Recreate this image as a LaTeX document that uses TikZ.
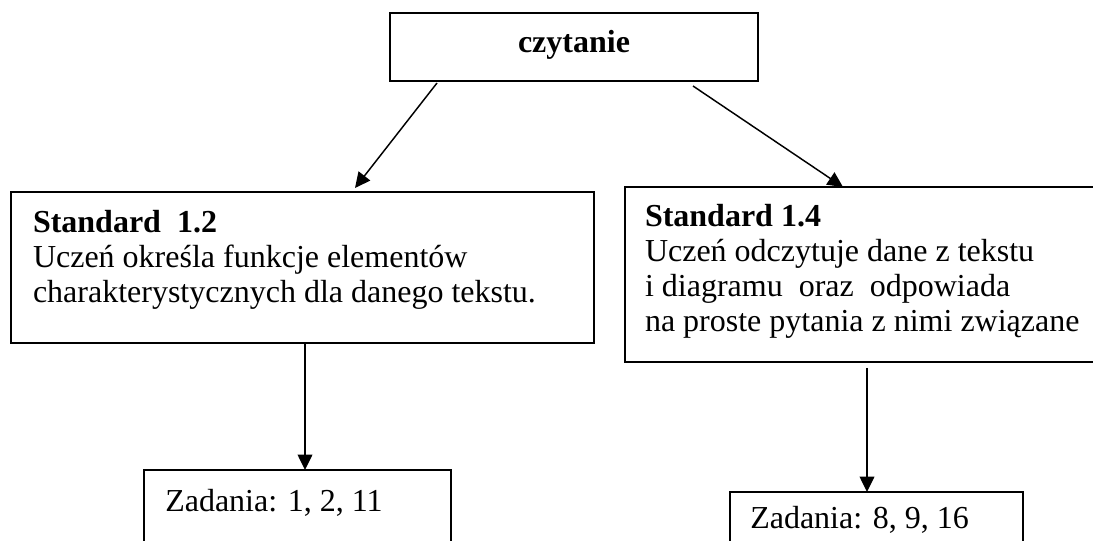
\documentclass[tikz,border=0pt]{standalone}
\usepackage{fontspec}
\setmainfont{Liberation Serif}
\usetikzlibrary{arrows.meta}
\begin{document}
\begin{tikzpicture}[x=0.75pt,y=-0.75pt,
  box/.style={draw,line width=1.4pt,inner sep=0pt,outer sep=0pt,anchor=north west},
  arr/.style={line width=1.1pt,-{Triangle[length=11.5pt,width=11pt]}},
  txt/.style={inner sep=0pt,outer sep=0pt,anchor=north west,align=left,font=\fontsize{24}{26.25}\selectfont},
  plain/.style={inner sep=0pt,anchor=base west,font=\fontsize{24}{26.25}\selectfont},
]
\useasboundingbox (0,0) rectangle (1093,541);
\clip (0,0) rectangle (1093,541);

% boxes
\node[box,minimum width=276pt,minimum height=51pt] (top) at (390,13) {};
\node[box,minimum width=437.25pt,minimum height=113.25pt] (lbox) at (11,192) {};
\node[box,minimum width=356.25pt,minimum height=131.25pt] (rbox) at (625,187) {};
\node[box,minimum width=230.25pt,minimum height=97.5pt] (lz) at (144,470) {};
\node[box,minimum width=219.75pt,minimum height=96pt] (rz) at (730,492) {};

% texts
\node[inner sep=0pt,anchor=base,font=\fontsize{24}{26.25}\selectfont\bfseries] (ttop) at (574,53) {czytanie};
\node[txt] (tl) at (33,208.5) {\strut\textbf{Standard\ \ 1.2}\\Uczeń określa funkcje elementów\\charakterystycznych dla danego tekstu.};
\node[txt] (tr) at (645,202.5) {\strut\textbf{Standard 1.4}\\Uczeń odczytuje dane z tekstu\\i diagramu\ \ oraz\ \ odpowiada\\na proste pytania z nimi związane};
\node[plain] (tlz) at (165,512) {Zadania: 1, 2, 11};
\node[plain] (trz) at (750,528) {Zadania: 8, 9, 16};

% connectors
\coordinate (s1) at (437,83);
\coordinate (e1) at (355,188);
\coordinate (s2) at (693,86);
\coordinate (e2) at (843,187);
\coordinate (s3) at (305,343);
\coordinate (e3) at (305,470);
\coordinate (s4) at (867,368);
\coordinate (e4) at (867,492);
\draw[arr] (s1) -- (e1);
\draw[arr] (s2) -- (e2);
\draw[arr] (s3) -- (e3);
\draw[arr] (s4) -- (e4);
\end{tikzpicture}
\end{document}
